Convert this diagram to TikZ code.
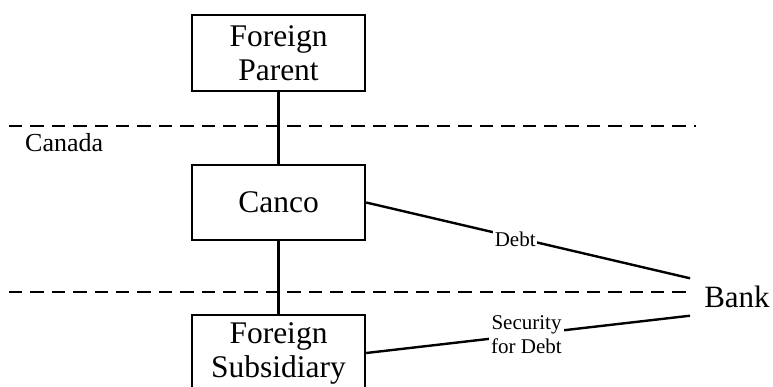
\documentclass[tikz,border=0pt]{standalone}
\usepackage{fontspec}
\setmainfont{Liberation Serif}
\begin{document}
\begin{tikzpicture}[x=1pt,y=-1pt,
  entity/.style={draw, line width=2.4pt, minimum width=173pt, minimum height=76pt, inner sep=0pt,
    align=center, font=\fontsize{31.5}{34}\selectfont},
  border/.style={line width=2.4pt, dash pattern=on 13.3pt off 8.1pt},
  link/.style={line width=2.4pt},
  lbl/.style={fill=white, inner xsep=1.5pt, inner ysep=1pt, align=center, font=\fontsize{21}{23.5}\selectfont}]
\clip (0,0) rectangle (773,386);
\useasboundingbox (0,0) rectangle (773,386);
\node[entity] (parent) at (278.5,53) {Foreign\\Parent};
\node[entity, minimum height=75pt] (canco) at (278.5,202.5) {Canco};
\node[entity] (sub) at (278.5,353) {Foreign\\Subsidiary};
\node[font=\fontsize{31}{34}\selectfont, inner xsep=14pt, inner ysep=0pt, minimum height=37pt] (bank) at (737,297) {Bank};
\node[font=\fontsize{26}{28}\selectfont, anchor=base west, inner sep=0pt] (canada) at (25,151) {Canada};
\coordinate (d1a) at (9,126);
\coordinate (d1b) at (696,126);
\coordinate (d2a) at (9,292);
\coordinate (d2b) at (693,292);
\draw[border] (d1a) -- (d1b);
\draw[border] (d2a) -- (d2b);
\draw[link] (parent) -- (canco);
\draw[link] (canco) -- (sub);
\draw[link] (canco.east) -- node[lbl, pos=0.46, yshift=-2pt] {Debt} (bank.north west);
\draw[link] (sub.east) -- node[lbl, pos=0.495, inner xsep=2pt] {Security\\for Debt} (bank.south west);
\end{tikzpicture}
\end{document}
